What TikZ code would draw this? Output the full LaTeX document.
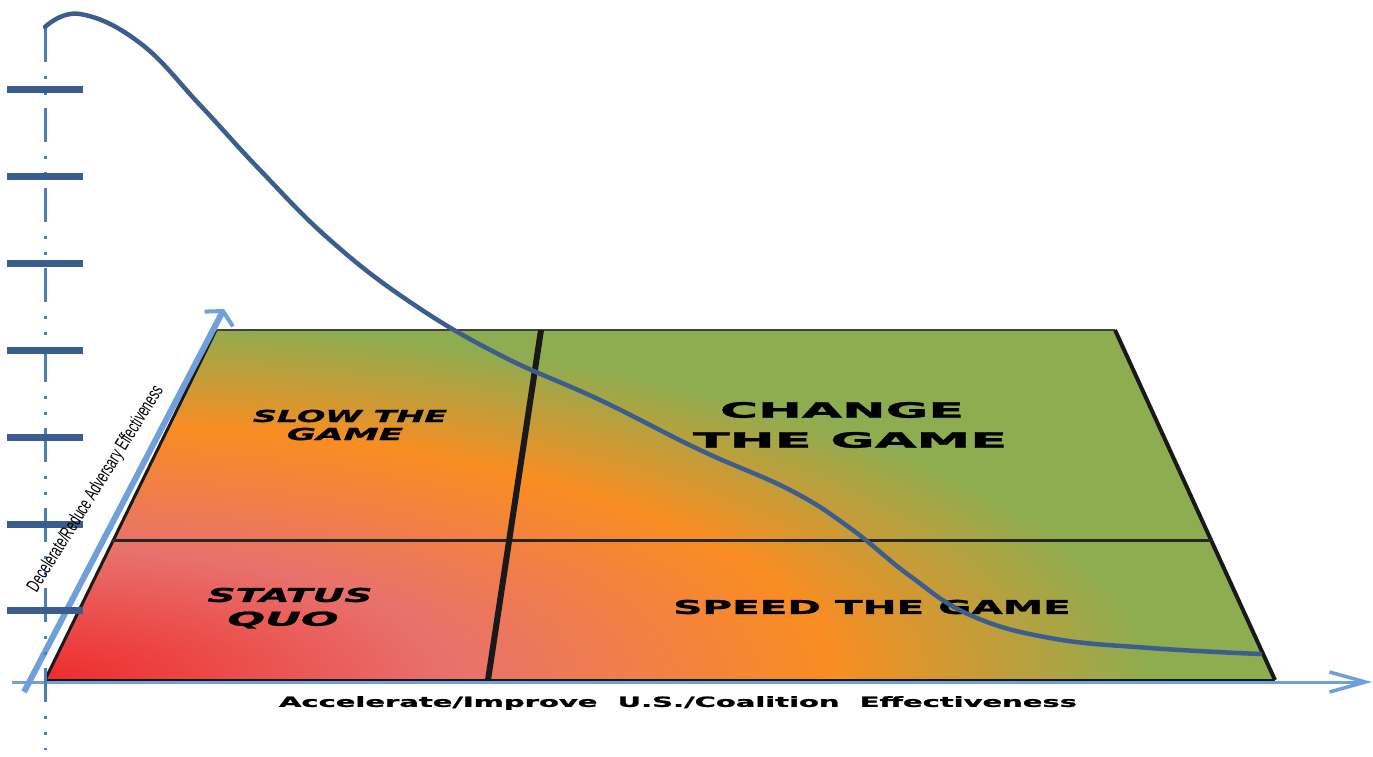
\documentclass[tikz,border=0pt]{standalone}
\usepackage{fontspec}
\setmainfont{DejaVu Sans}[BoldFeatures={FakeBold=1.2}, BoldItalicFeatures={FakeBold=1.2}]
\newfontfamily\axisfont{Liberation Sans}
\usetikzlibrary{arrows.meta}

\definecolor{fieldred}{HTML}{EE2C2C}
\definecolor{fieldpink}{HTML}{E8716D}
\definecolor{fieldorange}{HTML}{F98D22}
\definecolor{fieldgreen}{HTML}{8DAD50}
\definecolor{axisblue}{HTML}{6FA0DC}
\definecolor{dashblue}{HTML}{4A7EBB}
\definecolor{tickblue}{HTML}{395E8D}
\definecolor{curveblue}{HTML}{3B5E8E}

% red corner fading to green (the path box covers the inner 50bp of it)
\pgfdeclareradialshading{gamefield}{\pgfpoint{0bp}{0bp}}{color(0bp)=(fieldred); color(8.2bp)=(fieldpink); color(16bp)=(fieldorange); color(22.5bp)=(fieldgreen); color(50bp)=(fieldgreen)}

\begin{document}
\begin{tikzpicture}[x=1pt, y=-1pt,
  edge/.style={draw=black!90, line width=3pt},
  fieldlabel/.style={inner sep=0pt, text=black},
  xaxis/.style={draw=axisblue, line width=3pt, -{Straight Barb[length=36pt, width=20pt, line width=3.5pt]}},
  yaxis/.style={draw=axisblue, line width=6pt, -{Straight Barb[length=9pt, width=32pt, line width=4pt]}},
  tickmark/.style={draw=tickblue, line width=7pt},
  curve/.style={draw=curveblue, line width=4.5pt, line cap=round}]
\useasboundingbox (0,0) rectangle (1373,757);
\def \rx {1230}
\def \ry {400}

% corners of the field
\coordinate (bl) at (45,680);
\coordinate (tl) at (216,330);
\coordinate (tr) at (1115,330);
\coordinate (br) at (1275,680);
\coordinate (ml) at (112,540);
\coordinate (mr) at (1212,540);
\coordinate (dt) at (541,330);
\coordinate (db) at (488,680);

\begin{scope}
\clip (bl) -- (tl) -- (tr) -- (br) -- cycle;
\shade[shading=gamefield] (45-\rx,680-\ry) rectangle (45+\rx,680+\ry);
\end{scope}

\draw[edge] (bl) -- (tl);
\draw[draw=black!75, line width=1.5pt] (tl) -- (tr);
\draw[edge, line width=4pt] (tr) -- (br);
\draw[edge] (bl) -- (br);
\draw[edge, draw=black!85] (ml) -- (mr);
\draw[edge, line width=6pt] (dt) -- (db);

\node[fieldlabel, font=\bfseries\itshape\fontsize{16.5}{16.5}\selectfont, xscale=2.02] (slow) at (350,416) {SLOW THE};
\node[fieldlabel, font=\bfseries\itshape\fontsize{16.5}{16.5}\selectfont, xscale=2.15] (slowgame) at (345,434) {GAME};
\node[fieldlabel, font=\bfseries\fontsize{21}{21}\selectfont, xscale=2.48] (change) at (842,410) {CHANGE};
\node[fieldlabel, font=\bfseries\fontsize{21}{21}\selectfont, xscale=2.57] (changegame) at (850,440) {THE GAME};
\node[fieldlabel, font=\bfseries\itshape\fontsize{19}{19}\selectfont, xscale=2.06] (status) at (290,595) {STATUS};
\node[fieldlabel, font=\bfseries\itshape\fontsize{19}{19}\selectfont, xscale=2.33] (quo) at (283,620) {QUO};
\node[fieldlabel, font=\bfseries\fontsize{19}{19}\selectfont, xscale=2.13] (speed) at (872,607) {SPEED THE GAME};

% axes
\coordinate (xstart) at (12,682);
\coordinate (xend) at (1372,682);
\coordinate (ystart) at (24,692);
\coordinate (yend) at (224,309);
\draw[xaxis] (xstart) -- (xend);
\draw[yaxis] (ystart) -- (yend);

\coordinate (vtop) at (45,28);
\coordinate (vbot) at (45,750);
\draw[dashblue, line width=3pt, dash pattern=on 34pt off 14pt on 3pt off 13pt on 3pt off 13pt] (vtop) -- (vbot);

\foreach \t in {0,...,6}
{
	\draw[tickmark] (7,{90+86.8*\t}) -- (83,{90+86.8*\t});
}

\node[fieldlabel, font=\bfseries\fontsize{14}{14}\selectfont, xscale=2.07] (xlabel) at (678,703) {Accelerate/Improve\ \ U.S./Coalition\ \ Effectiveness};
\node[fieldlabel, font=\axisfont\fontsize{19}{19}\selectfont, rotate=58, xscale=0.645] (ylabel) at (96,489) {Decelerate/Reduce Adversary Effectiveness};

% the curve
\draw[curve] plot[smooth, tension=0.7] coordinates {(45,27) (80,14) (140,43) (200,105) (260,170) (330,240) (410,302) (500,355) (600,400) (700,450) (790,490) (850,528) (910,576) (970,615) (1050,638) (1150,648) (1260,654)};
\end{tikzpicture}
\end{document}
